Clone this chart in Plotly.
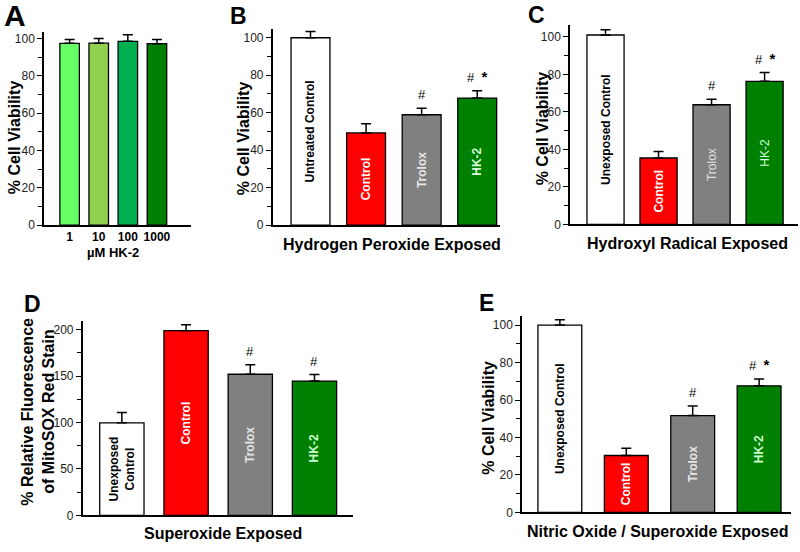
import plotly.graph_objects as go

W, H = 800, 552
FONT = "Arial, Liberation Sans, sans-serif"

# ---------------- data ----------------
a_labels = ["1", "10", "100", "1000"]
a_values = [97.4, 97.5, 98.5, 97.2]
a_errors = [2.0, 2.5, 3.5, 2.3]
a_colors = ["#66ff66", "#92d050", "#00b050", "#008000"]

b_groups = ["Untreated Control", "Control", "Trolox", "HK-2"]
b_values = [100.0, 49.2, 58.9, 67.8]
b_errors = [3.3, 4.9, 3.5, 3.9]
b_marks = ["", "", "#", "# *"]

c_groups = ["Unexposed Control", "Control", "Trolox", "HK-2"]
c_values = [101.0, 35.4, 63.8, 76.3]
c_errors = [2.8, 3.5, 3.0, 4.7]
c_marks = ["", "", "#", "# *"]

d_groups = ["Unexposed<br>Control", "Control", "Trolox", "HK-2"]
d_values = [99.7, 199.0, 152.1, 144.7]
d_errors = [11.3, 6.3, 10.3, 7.1]
d_marks = ["", "", "#", "#"]

e_groups = ["Unexposed Control", "Control", "Trolox", "HK-2"]
e_values = [100.0, 30.4, 51.7, 67.6]
e_errors = [2.8, 3.9, 5.1, 3.6]
e_marks = ["", "", "#", "# *"]

group_colors = ["#ffffff", "#ff0000", "#808080", "#008000"]

# ---------------- layout helpers ----------------
def px_x(p):
    return p / W

def px_y(p):
    return 1 - p / H

fig = go.Figure()
annotations = []

def fmt_mark(m):
    return m.replace(" *", "\u00a0\u00a0<b><span style='font-size:15px'>*</span></b>")

def add_panel(idx, xs, values, errors, colors, texts, text_colors, bold,
              xdom_px, ydom_px, yrange, xrange, width, dtick, minor_dtick,
              marks, show_xticks=False, xticklabels=None):
    xa = "x" if idx == 1 else f"x{idx}"
    ya = "y" if idx == 1 else f"y{idx}"
    fig.add_trace(go.Bar(
        x=xs, y=values, width=width,
        marker=dict(color=colors, line=dict(color="black", width=1.3)),
        error_y=dict(type="data", symmetric=False, array=errors,
                     arrayminus=[0] * len(errors), color="black",
                     thickness=1.5, width=5),
        text=[(f"<b>{t}</b>" if (t and b) else t) for t, b in zip(texts, bold)] if texts else None,
        textposition="inside" if texts else None,
        insidetextanchor="middle",
        textangle=-90,
        constraintext="none",
        textfont=dict(family=FONT, size=12, color=text_colors) if texts else None,
        xaxis=xa, yaxis=ya, hoverinfo="skip",
    ))
    xkey = "xaxis" if idx == 1 else f"xaxis{idx}"
    ykey = "yaxis" if idx == 1 else f"yaxis{idx}"
    fig.update_layout(**{
        xkey: dict(domain=[px_x(xdom_px[0]), px_x(xdom_px[1])], anchor=ya,
                   range=xrange, showline=True, linecolor="black", linewidth=1.5,
                   showgrid=False, zeroline=False, ticks="",
                   tickmode="array", tickvals=xs if show_xticks else [],
                   ticktext=[f"<b>{t}</b>" for t in xticklabels] if show_xticks else [],
                   tickfont=dict(family=FONT, size=12, color="black"),
                   fixedrange=True),
        ykey: dict(domain=[px_y(ydom_px[1]), px_y(ydom_px[0])], anchor=xa,
                   range=yrange, showline=True, linecolor="black", linewidth=1.5,
                   showgrid=False, zeroline=False, ticks="outside", ticklen=5,
                   tickwidth=1.2, tickcolor="black", dtick=dtick, tick0=0,
                   minor=dict(ticks="outside", ticklen=4, dtick=minor_dtick,
                              tickcolor="black", tickwidth=1.2),
                   tickfont=dict(family=FONT, size=12, color="#222"),
                   fixedrange=True),
    })
    for x, v, e, m in zip(xs, values, errors, marks):
        if m:
            annotations.append(dict(
                x=x, y=v + e, xref=xa, yref=ya, text=fmt_mark(m), showarrow=False,
                yanchor="bottom", yshift=4,
                font=dict(family=FONT, size=13, color="black")))

xs = [0, 1, 2, 3]

# Panel A
add_panel(1, xs, a_values, a_errors, a_colors, None, None, None,
          (44, 191), (32, 228), [0, 103.7], [-0.88, 4.17], 0.67, 20, 10,
          ["", "", "", ""], show_xticks=True, xticklabels=a_labels)
# Panel B
add_panel(2, xs, b_values, b_errors, group_colors, b_groups,
          ["black", "white", "#e6e6e6", "#d8ffd8"], [True, True, True, True],
          (272.7, 500), (29.3, 228), [0, 104.7], [-0.68, 3.41], 0.7, 20, 10, b_marks)
# Panel C
add_panel(3, xs, c_values, c_errors, group_colors, c_groups,
          ["black", "white", "#e0e0e0", "#ccffcc"], [True, True, False, False],
          (570, 798), (25, 227.3), [0, 106.5], [-0.67, 3.63], 0.7, 20, 10, c_marks)
# Panel D
add_panel(4, xs, d_values, d_errors, group_colors, d_groups,
          ["black", "white", "#e6e6e6", "#ccffcc"], [True, True, True, True],
          (82.7, 353), (325, 522), [0, 209.6], [-0.61, 3.6], 0.69, 50, 25, d_marks)
# Panel E
add_panel(5, xs, e_values, e_errors, group_colors, e_groups,
          ["black", "white", "#e6e6e6", "#ccffcc"], [True, True, True, True],
          (522, 791), (320, 519), [0, 104.9], [-0.57, 3.48], 0.66, 20, 10, e_marks)

def paper_text(text, xp, yp, size, angle=0, bold=True):
    annotations.append(dict(
        x=px_x(xp), y=px_y(yp), xref="paper", yref="paper",
        text=f"<b>{text}</b>" if bold else text, showarrow=False,
        textangle=angle, xanchor="center", yanchor="middle",
        font=dict(family=FONT, size=size, color="black")))

# panel letters
paper_text("A", 15, 16, 30)
paper_text("B", 238, 16, 23)
paper_text("C", 536, 15, 23)
paper_text("D", 32, 308, 23)
paper_text("E", 486, 307, 23)

# y titles
paper_text("% Cell Viability", 14, 139, 16, -90)
paper_text("% Cell Viability", 243, 140, 16, -90)
paper_text("% Cell Viability", 542, 130, 16, -90)
paper_text("% Relative Fluorescence", 28, 417, 16, -90)
paper_text("of MitoSOX Red Stain", 49, 417, 16, -90)
paper_text("% Cell Viability", 489, 423, 16, -90)

# x titles
paper_text("µM HK-2", 113, 256, 13)
paper_text("Hydrogen Peroxide Exposed", 392, 248, 16)
paper_text("Hydroxyl Radical Exposed", 687, 247, 16)
paper_text("Superoxide Exposed", 223, 540, 16)
paper_text("Nitric Oxide / Superoxide Exposed", 657, 538, 16)

fig.update_layout(
    width=W, height=H, margin=dict(l=0, r=0, t=0, b=0),
    paper_bgcolor="white", plot_bgcolor="white", showlegend=False,
    annotations=annotations, bargap=0.3,
)

fig.write_html("out.html", config={"displayModeBar": False},
               post_script="document.body.style.margin='0';document.body.style.overflow='hidden';")
